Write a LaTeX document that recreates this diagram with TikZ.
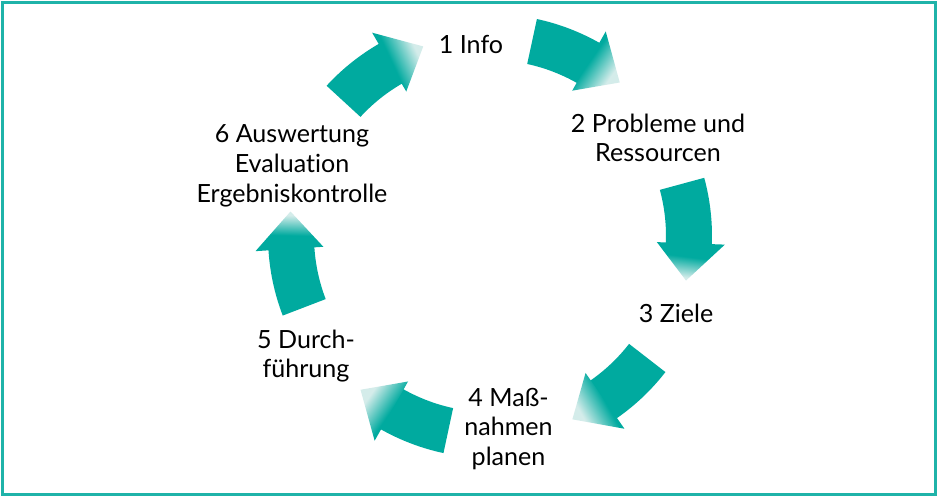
\documentclass[tikz,border=0pt]{standalone}
\usepackage{fontspec}
\setmainfont{Lato}[Ligatures=NoCommon]
\usetikzlibrary{calc}
\definecolor{arrowteal}{HTML}{00AA9F}
\definecolor{frameteal}{HTML}{1FB3A9}
\definecolor{tealpale}{HTML}{D4ECEA}
\pgfdeclareverticalshading{headfade}{100bp}{color(0bp)=(arrowteal); color(25bp)=(arrowteal); color(45bp)=(arrowteal); color(70bp)=(tealpale); color(100bp)=(tealpale)}
\newcommand{\cyclearrow}[1]{%
  \pgfmathsetmacro\hbase{#1-17.3}%
  \pgfmathsetmacro\hover{#1-17.9}%
  \pgfmathsetmacro\htip{#1-28}%
  \pgfmathsetmacro\hshade{#1-22.5-180}%
  \fill[arrowteal] ($(c)+(#1:222)$) arc[start angle=#1, end angle=\hover, radius=222]
     -- ($(c)+(\hover:176)$) arc[start angle=\hover, end angle=#1, radius=176] -- cycle;
  \shade[shading=headfade, shading angle=\hshade] ($(c)+(\hbase:235)$) -- ($(c)+(\htip:201)$) -- ($(c)+(\hbase:167)$) -- cycle;
}
\tikzset{lbl/.style={inner sep=0pt, align=center, font=\fontsize{18.8pt}{22.2pt}\selectfont, text=black}}
\begin{document}
\begin{tikzpicture}[x=0.75pt, y=0.75pt]
\useasboundingbox (0,0) rectangle (937,-497);
\fill[white] (0,0) rectangle (937,-497);
\draw[frameteal, line width=2.25pt] (2.5,-2.5) rectangle (935,-494.2);
\coordinate (c) at (490,-236);
\cyclearrow{137.4}
\cyclearrow{77.8}
\cyclearrow{15.2}
\cyclearrow{-37.8}
\cyclearrow{-102.1}
\cyclearrow{-159}
\node[lbl] (n1) at (471,-44) {1 Info};
\node[lbl] (n2) at (658,-137.7) {2 Probleme und\\Ressourcen};
\node[lbl] (n3) at (676,-313.7) {3 Ziele};
\node[lbl] (n4) at (508.5,-428.8) {4 Maß-\\nahmen\\planen};
\node[lbl] (n5) at (306,-356) {5 Durch-\\führung};
\node[lbl] (n6) at (292,-165.7) {6 Auswertung\\Evaluation\\Ergebniskontrolle};
\end{tikzpicture}
\end{document}
